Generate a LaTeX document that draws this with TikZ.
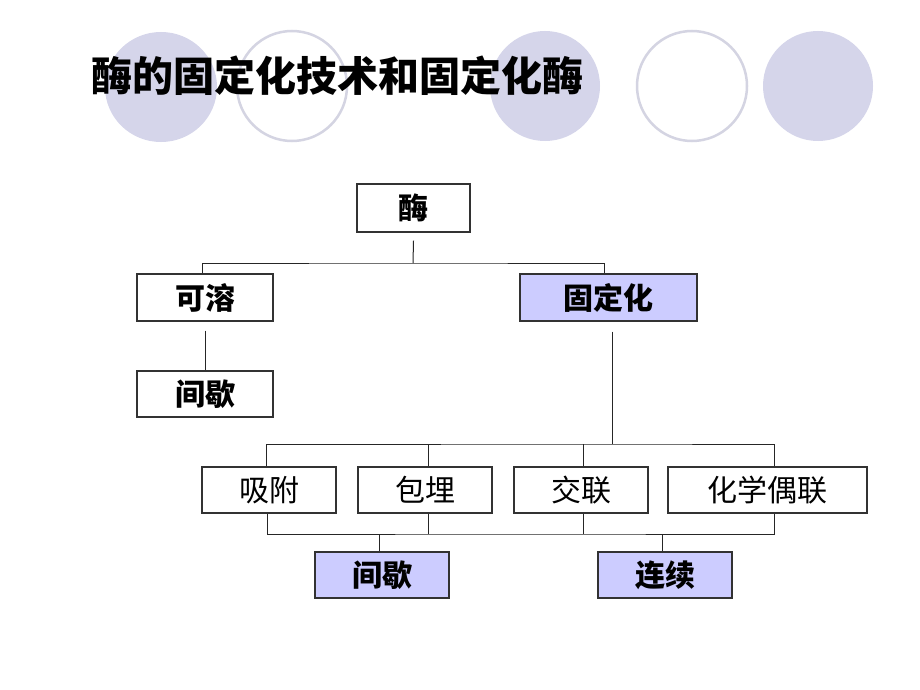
\documentclass[tikz,border=0pt]{standalone}
\usepackage{fontspec}
\newfontfamily\cjk{Noto Sans CJK SC}
\usetikzlibrary{calc}
\definecolor{lav}{RGB}{204,204,255}
\definecolor{circfill}{RGB}{213,213,234}
\definecolor{circline}{RGB}{212,212,226}
\definecolor{boxline}{RGB}{50,50,50}
\tikzset{
  box/.style={draw=boxline, line width=1.2pt, inner sep=0pt, minimum height=46pt,
    font=\cjk\fontsize{30}{30}\selectfont},
  boldbox/.style={box, font=\cjk\bfseries\fontsize{30}{30}\selectfont},
  hl/.style={fill=lav},
  conn/.style={draw=black!85, line width=1pt},
  fcirc/.style={fill=circfill, draw=none},
  ocirc/.style={draw=circline, line width=2.5pt, fill=white},
}
\begin{document}
\begin{tikzpicture}[x=1pt,y=-1pt]
\useasboundingbox[fill=white] (0,0) rectangle (920,690);
% decorative circles
\path[fcirc] (161,87) ellipse [x radius=56, y radius=55];
\path[ocirc] (292,86) circle [radius=55];
\path[fcirc] (545,86) ellipse [x radius=55, y radius=55];
\path[ocirc] (692,86) circle [radius=55];
\path[fcirc] (818,86) ellipse [x radius=55, y radius=55];
% title
\node[anchor=west, inner sep=0pt, font=\cjk\bfseries\fontsize{41}{41}\selectfont] (title) at (91,76) {酶的固定化技术和固定化酶};
% boxes
\node[boldbox, minimum width=113pt, minimum height=48pt] (mei) at (413.5,208) {酶};
\node[boldbox, minimum width=136pt, minimum height=47pt] (kerong) at (205,297.5) {可溶};
\node[boldbox, hl, minimum width=177pt, minimum height=47pt] (guding) at (608.5,297.5) {固定化};
\node[boldbox, minimum width=136pt] (jx1) at (205,394) {间歇};
\node[box, minimum width=134pt] (xifu) at (269,490) {吸附};
\node[box, minimum width=134pt] (baomai) at (425,490) {包埋};
\node[box, minimum width=134pt] (jiaolian) at (581,490) {交联};
\node[box, minimum width=199pt] (huaxue) at (767.5,490) {化学偶联};
\node[boldbox, hl, minimum width=134pt] (jx2) at (382,575) {间歇};
\node[boldbox, hl, minimum width=134pt] (lianxu) at (665,575) {连续};
% bus coordinates
\coordinate (b1) at (413,263);
\coordinate (b2) at (612,444);
\coordinate (b3) at (520,534);
% level 1
\draw[conn] ([yshift=-8pt]mei.south) -- (b1);
\draw[conn] ([xshift=-3pt]kerong.north) |- (b1) -| ([xshift=-4.5pt]guding.north);
\draw[conn] ([yshift=-9pt]kerong.south) -- (jx1.north);
% level 2
\draw[conn] ([xshift=3.5pt,yshift=-10pt]guding.south) -- (b2);
\draw[conn] ([xshift=-3pt]xifu.north) |- (b2) -| ([xshift=6.5pt]huaxue.north);
\draw[conn] ([xshift=3pt]baomai.north) -- ([xshift=3pt]baomai.north |- b2);
\draw[conn] ([xshift=2pt]jiaolian.north) -- ([xshift=2pt]jiaolian.north |- b2);
% level 3
\draw[conn] ([xshift=-2pt]xifu.south) |- (b3) -| ([xshift=6.5pt]huaxue.south);
\draw[conn] ([xshift=3pt]baomai.south) -- ([xshift=3pt]baomai.south |- b3);
\draw[conn] ([xshift=2pt]jiaolian.south) -- ([xshift=2pt]jiaolian.south |- b3);
\draw[conn] ([xshift=-3pt]jx2.north) -- ([xshift=-3pt]jx2.north |- b3);
\draw[conn] ([xshift=-3pt]lianxu.north) -- ([xshift=-3pt]lianxu.north |- b3);
\end{tikzpicture}
\end{document}
